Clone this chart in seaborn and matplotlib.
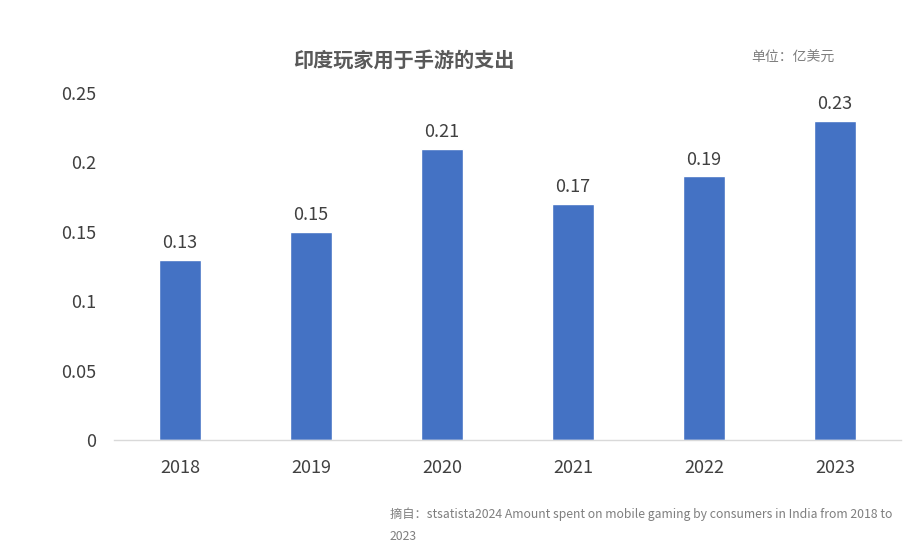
import matplotlib
matplotlib.use('Agg')
import matplotlib.pyplot as plt
import seaborn as sns
import pandas as pd

years = ['2018', '2019', '2020', '2021', '2022', '2023']
spend = [0.13, 0.15, 0.21, 0.17, 0.19, 0.23]
yticks = [0, 0.05, 0.1, 0.15, 0.2, 0.25]
ytick_labels = ['0', '0.05', '0.1', '0.15', '0.2', '0.25']

sns.set_style('white')
plt.rcParams['font.family'] = ['Noto Sans CJK SC', 'DejaVu Sans']

df = pd.DataFrame({'year': years, 'spend': spend})

fig = plt.figure(figsize=(9.21, 5.55), dpi=100)
ax = fig.add_axes([0.1243, 0.2072, 0.8535, 0.6252])
sns.barplot(data=df, x='year', y='spend', color='#4472C4', width=0.32,
            saturation=1, ax=ax)

ax.set_ylim(0, 0.25)
ax.set_xlim(-0.5, len(years) - 0.5)
ax.set_yticks(yticks)
ax.set_yticklabels(ytick_labels)
ax.set_xlabel('')
ax.set_ylabel('')
ax.tick_params(axis='both', length=0, labelsize=13, colors='#404040')
ax.tick_params(axis='x', pad=14)
ax.tick_params(axis='y', pad=13)

for s in ['top', 'right', 'left']:
    ax.spines[s].set_visible(False)
ax.spines['bottom'].set_color('#D9D9D9')
ax.spines['bottom'].set_linewidth(1)

for i, v in enumerate(spend):
    ax.text(i, v + 0.0055, f'{v:.2f}', ha='center', va='bottom',
            fontsize=13, color='#404040')

fig.text(0.439, 0.892, '印度玩家用于手游的支出', ha='center', va='center',
         fontsize=14.5, fontweight='bold', color='#595959')
fig.text(0.816, 0.895, '单位：亿美元', ha='left', va='center',
         fontsize=10, color='#7F7F7F')
fig.text(0.423, 0.074, '摘自：stsatista2024 Amount spent on mobile gaming by consumers in India from 2018 to',
         ha='left', va='center', fontsize=8.8, color='#7F7F7F')
fig.text(0.423, 0.034, '2023', ha='left', va='center', fontsize=8.8, color='#7F7F7F')

fig.savefig('out.png', dpi=100)
